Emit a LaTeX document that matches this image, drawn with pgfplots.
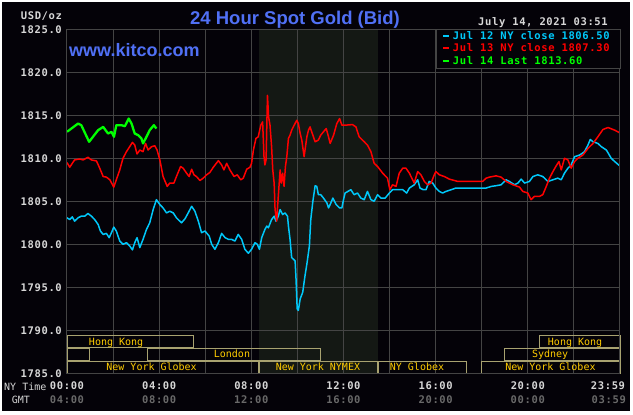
\documentclass[border=0pt]{standalone}
\usepackage{pgfplots}
\pgfplotsset{compat=1.18}
\usepackage{fontspec}
\setmainfont{Liberation Sans}
\newfontfamily\monof{DejaVu Sans Mono}[LetterSpace=6]
\newfontfamily\monor{DejaVu Sans Mono}
\newcommand\tickfont{\monof\bfseries\fontsize{10.5}{12}\selectfont}
\newcommand\mktfont{\monor\fontsize{10}{12}\selectfont}
\definecolor{bg}{RGB}{4,2,8}
\definecolor{shade}{RGB}{20,24,20}
\definecolor{gridc}{RGB}{68,68,68}
\definecolor{ticktxt}{RGB}{215,215,215}
\definecolor{gmttxt}{RGB}{105,105,105}
\definecolor{titleblue}{RGB}{80,112,245}
\definecolor{c12}{RGB}{0,200,250}
\definecolor{c13}{RGB}{255,0,0}
\definecolor{c14}{RGB}{0,255,0}
\definecolor{mktbox}{RGB}{168,162,112}
\definecolor{mkttxt}{RGB}{255,204,0}

\pgfplotstableread{
h p
0.00 1803.08
0.12 1802.88
0.23 1803.19
0.33 1802.69
0.48 1803.08
0.62 1803.27
0.77 1803.27
0.91 1803.58
1.06 1803.27
1.20 1802.88
1.35 1802.31
1.45 1801.54
1.57 1801.15
1.71 1801.27
1.83 1800.77
1.93 1801.35
2.03 1802.00
2.14 1801.54
2.29 1800.38
2.43 1800.00
2.58 1800.19
2.72 1799.81
2.84 1799.35
2.94 1800.19
3.04 1800.77
3.16 1799.62
3.30 1800.58
3.45 1801.73
3.59 1802.50
3.74 1804.04
3.88 1805.19
4.03 1804.62
4.17 1804.23
4.32 1803.65
4.46 1803.85
4.61 1803.65
4.75 1803.08
4.97 1802.50
5.12 1802.96
5.26 1803.65
5.41 1804.42
5.55 1803.85
5.70 1802.69
5.84 1801.35
5.99 1801.54
6.17 1800.96
6.28 1800.00
6.42 1799.42
6.57 1800.19
6.71 1801.27
6.86 1800.77
7.00 1800.58
7.14 1800.58
7.29 1800.38
7.43 1801.15
7.58 1800.58
7.72 1799.42
7.87 1798.96
8.01 1799.42
8.16 1800.19
8.26 1800.00
8.35 1799.42
8.45 1800.77
8.59 1801.73
8.67 1802.12
8.74 1801.92
8.88 1802.88
8.99 1803.27
9.07 1802.69
9.17 1803.27
9.25 1804.04
9.36 1803.46
9.46 1803.65
9.57 1803.27
9.61 1802.12
9.68 1800.58
9.75 1798.46
9.90 1798.08
9.94 1795.96
9.99 1792.50
10.04 1792.31
10.12 1793.65
10.23 1794.42
10.33 1796.35
10.41 1797.69
10.52 1799.81
10.58 1802.88
10.67 1805.00
10.77 1806.81
10.84 1806.73
10.91 1805.77
11.01 1805.77
11.13 1805.38
11.28 1804.81
11.35 1804.23
11.42 1804.62
11.54 1805.38
11.68 1804.62
11.83 1804.23
11.93 1804.23
12.00 1805.19
12.07 1805.96
12.32 1806.35
12.46 1805.77
12.61 1805.96
12.75 1805.38
12.90 1805.19
13.04 1806.15
13.19 1805.19
13.33 1805.00
13.48 1805.77
13.62 1805.38
13.81 1805.38
13.99 1805.96
14.13 1806.35
14.35 1806.35
14.57 1806.35
14.74 1805.96
14.86 1806.54
15.07 1806.92
15.22 1807.50
15.32 1806.54
15.46 1806.35
15.58 1806.35
15.72 1807.31
15.87 1807.12
16.01 1806.54
16.16 1806.15
16.30 1805.96
16.45 1806.15
16.67 1806.35
16.88 1806.54
18.04 1806.54
18.19 1806.54
18.41 1806.73
18.62 1806.81
18.84 1806.92
19.06 1807.50
19.20 1807.31
19.42 1806.92
19.57 1807.12
19.71 1807.58
19.86 1807.12
20.07 1807.31
20.22 1807.88
20.43 1808.08
20.65 1807.88
20.87 1807.31
21.09 1807.50
21.30 1807.69
21.45 1807.50
21.59 1808.27
21.74 1808.85
21.88 1809.23
22.03 1810.19
22.25 1810.38
22.46 1810.77
22.61 1811.54
22.71 1812.19
22.83 1811.92
23.04 1811.73
23.19 1811.35
23.41 1810.96
23.62 1810.00
23.77 1809.62
23.99 1809.12
}\jultwelve

\pgfplotstableread{
h p
0.00 1809.50
0.12 1808.96
0.23 1809.42
0.33 1809.81
0.55 1809.92
0.70 1809.81
0.91 1810.12
1.06 1809.81
1.28 1809.69
1.42 1808.85
1.57 1807.88
1.71 1807.81
1.86 1807.50
2.03 1806.65
2.14 1807.50
2.29 1808.65
2.43 1810.00
2.58 1810.77
2.72 1811.35
2.84 1811.85
2.94 1811.54
3.04 1810.50
3.16 1810.96
3.30 1810.77
3.41 1811.73
3.52 1810.96
3.67 1811.35
3.81 1811.46
3.91 1810.96
4.03 1809.81
4.17 1807.88
4.35 1806.73
4.46 1807.12
4.64 1807.12
4.75 1807.88
4.93 1809.04
5.04 1808.85
5.19 1808.27
5.30 1807.88
5.41 1808.73
5.51 1808.08
5.62 1807.88
5.77 1807.42
5.91 1807.69
6.06 1808.08
6.20 1808.35
6.35 1808.96
6.57 1809.73
6.71 1809.23
6.81 1808.65
6.93 1809.42
7.07 1808.65
7.25 1807.88
7.39 1808.08
7.54 1807.50
7.65 1807.69
7.80 1808.73
7.94 1808.96
8.01 1809.42
8.09 1810.96
8.20 1812.31
8.30 1812.50
8.41 1813.85
8.49 1814.23
8.55 1810.19
8.59 1809.23
8.64 1809.81
8.70 1817.31
8.75 1814.81
8.81 1813.85
8.88 1811.35
8.93 1808.65
8.99 1807.12
9.03 1804.04
9.10 1802.69
9.14 1804.42
9.19 1806.35
9.25 1808.65
9.30 1807.12
9.36 1808.27
9.42 1806.73
9.48 1809.04
9.54 1810.19
9.61 1812.31
9.68 1812.69
9.75 1813.27
9.86 1813.85
9.97 1814.42
10.04 1814.04
10.12 1812.88
10.19 1812.12
10.29 1810.19
10.41 1812.50
10.48 1813.27
10.55 1813.65
10.62 1813.08
10.77 1811.92
10.91 1812.12
11.01 1812.69
11.13 1813.08
11.25 1813.46
11.35 1812.50
11.42 1811.73
11.57 1812.69
11.71 1814.04
11.83 1814.62
11.93 1813.85
12.07 1813.85
12.39 1813.92
12.54 1813.65
12.68 1812.50
12.90 1811.92
13.04 1811.54
13.19 1810.77
13.33 1809.42
13.48 1809.04
13.70 1808.27
13.91 1807.69
14.01 1806.35
14.13 1806.92
14.28 1806.73
14.42 1808.27
14.57 1808.85
14.71 1808.85
14.86 1808.27
15.00 1807.50
15.07 1807.12
15.22 1808.46
15.36 1808.08
15.51 1807.31
15.65 1806.92
15.80 1807.12
15.94 1808.08
16.01 1808.46
16.16 1808.08
16.38 1807.88
16.59 1807.58
16.81 1807.42
16.96 1807.31
18.04 1807.31
18.19 1807.69
18.33 1807.81
18.62 1807.96
18.84 1807.81
19.06 1807.31
19.35 1806.92
19.64 1806.65
19.78 1806.15
20.00 1805.96
20.14 1805.19
20.29 1805.58
20.51 1805.58
20.65 1805.77
20.80 1806.73
20.94 1807.69
21.09 1808.46
21.23 1809.12
21.35 1809.62
21.45 1808.65
21.59 1810.00
21.74 1809.81
21.88 1808.85
22.03 1809.62
22.17 1810.00
22.39 1810.38
22.61 1811.15
22.83 1811.73
23.04 1812.50
23.26 1813.35
23.48 1813.58
23.77 1813.27
23.99 1812.96
}\julthirteen

\pgfplotstableread{
h p
0.00 1813.08
0.48 1814.04
0.62 1813.85
0.96 1811.92
1.35 1813.27
1.57 1813.65
1.78 1812.88
1.93 1813.08
2.04 1812.50
2.14 1813.85
2.36 1813.85
2.51 1813.73
2.68 1814.62
2.80 1814.04
2.94 1812.88
3.09 1812.69
3.23 1812.31
3.30 1811.73
3.45 1812.50
3.59 1813.27
3.77 1813.85
3.88 1813.46
}\julfourteen

\begin{document}
\begin{tikzpicture}[x=1pt,y=1pt]
\fill[white] (0,0) rectangle (633,415);
\useasboundingbox (0,0) rectangle (633,415);
\fill[bg] (2,4) rectangle (630,413);
\begin{axis}[
  at={(67pt,41.7pt)}, anchor=south west,
  scale only axis, width=553pt, height=344pt,
  xmin=0, xmax=24, ymin=1785, ymax=1825,
  axis line style={draw=gridc, line width=1pt},
  major tick length=0pt, tick style={draw=none},
  xtick={0,2,...,22},
  xticklabels={00:00,,04:00,,08:00,,12:00,,16:00,,20:00,},
  ytick={1785,1790,...,1825},
  yticklabels={1785.0,1790.0,1795.0,1800.0,1805.0,1810.0,1815.0,1820.0,1825.0},
  xticklabel style={font=\tickfont, text=ticktxt, inner sep=0pt, anchor=center, yshift=-12pt},
  yticklabel style={font=\tickfont, text=ticktxt, inner sep=0pt, anchor=east, xshift=-5pt},
  clip mode=individual,
]
% NYMEX session shade
\addplot[fill=shade, draw=none, forget plot] coordinates {(8.33,1785) (8.33,1825) (13.5,1825) (13.5,1785)} -- cycle;
% grid
\pgfplotsinvokeforeach{2,4,...,22}{\draw[gridc, line width=0.9pt] (axis cs:#1,1785) -- (axis cs:#1,1825);}
\pgfplotsinvokeforeach{1790,1795,...,1820}{\draw[gridc, line width=0.9pt] (axis cs:0,#1) -- (axis cs:24,#1);}
% market sessions
\draw[mktbox, line width=1.2pt] (axis cs:0,1788.00) rectangle (axis cs:5.5,1789.40);
\draw[mktbox, line width=1.2pt] (axis cs:20.5,1788.00) rectangle (axis cs:24,1789.40);
\draw[mktbox, line width=1.2pt] (axis cs:0,1786.51) rectangle (axis cs:0.97,1787.91);
\draw[mktbox, line width=1.2pt] (axis cs:3.5,1786.51) rectangle (axis cs:11,1787.91);
\draw[mktbox, line width=1.2pt] (axis cs:19,1786.51) rectangle (axis cs:24,1787.91);
\draw[mktbox, line width=1.2pt] (axis cs:0,1785) rectangle (axis cs:8.33,1786.37);
\draw[mktbox, line width=1.2pt] (axis cs:8.33,1785) rectangle (axis cs:13.5,1786.37);
\draw[mktbox, line width=2.2pt] (axis cs:8.33,1785) -- (axis cs:8.33,1786.37);
\draw[mktbox, line width=2.2pt] (axis cs:13.5,1785) -- (axis cs:13.5,1786.37);
\draw[mktbox, line width=1.2pt] (axis cs:13.5,1785) rectangle (axis cs:17.33,1786.37);
\draw[mktbox, line width=1.2pt] (axis cs:18,1785) rectangle (axis cs:24,1786.37);
\node[font=\mktfont, text=mkttxt, inner sep=0pt, anchor=base] at (axis cs:2.13,1788.29) {Hong Kong};
\node[font=\mktfont, text=mkttxt, inner sep=0pt, anchor=base] at (axis cs:22.05,1788.29) {Hong Kong};
\node[font=\mktfont, text=mkttxt, inner sep=0pt, anchor=base] at (axis cs:7.16,1786.81) {London};
\node[font=\mktfont, text=mkttxt, inner sep=0pt, anchor=base] at (axis cs:20.97,1786.81) {Sydney};
\node[font=\mktfont, text=mkttxt, inner sep=0pt, anchor=base] at (axis cs:3.67,1785.30) {New York Globex};
\node[font=\mktfont, text=mkttxt, inner sep=0pt, anchor=base] at (axis cs:10.89,1785.30) {New York NYMEX};
\node[font=\mktfont, text=mkttxt, inner sep=0pt, anchor=base] at (axis cs:15.19,1785.30) {NY Globex};
\node[font=\mktfont, text=mkttxt, inner sep=0pt, anchor=base] at (axis cs:20.98,1785.30) {New York Globex};
% data
\addplot[c12, line width=1.5pt, line join=round] table[x=h, y=p] {\jultwelve};
\addplot[c13, line width=1.5pt, line join=round] table[x=h, y=p] {\julthirteen};
\addplot[c14, line width=2.3pt, line join=round] table[x=h, y=p] {\julfourteen};
\draw[gridc, line width=1pt] (axis cs:0,1785) rectangle (axis cs:24,1825);
\end{axis}
% legend box
\fill[bg] (436,346.7) rectangle (620,385.7);
\draw[gridc, line width=1pt] (436,346.7) rectangle (620,385.7);
\draw[c12, line width=2pt] (443,379.2) -- (449,379.2);
\draw[c13, line width=2pt] (443,367.2) -- (449,367.2);
\draw[c14, line width=2pt] (443,354.2) -- (449,354.2);
\node[font=\tickfont, text=c12, inner sep=0pt, anchor=west] at (452.7,379.2) {Jul 12 NY close 1806.50};
\node[font=\tickfont, text=c13, inner sep=0pt, anchor=west] at (452.7,367.2) {Jul 13 NY close 1807.30};
\node[font=\tickfont, text=c14, inner sep=0pt, anchor=west] at (452.7,354.2) {Jul 14 Last 1813.60};
% titles and texts
\node[font=\bfseries\fontsize{18.5}{20}\selectfont, text=titleblue, inner sep=0pt, anchor=base] at (295,390.3) {24 Hour Spot Gold (Bid)};
\node[font=\bfseries\fontsize{18}{20}\selectfont, text=titleblue, inner sep=0pt, anchor=base west] at (69,358) {www.kitco.com};
\node[font=\tickfont, text=ticktxt, inner sep=0pt, anchor=base] at (543,389) {July 14, 2021 03:51};
\node[font=\tickfont, text=ticktxt, inner sep=0pt, anchor=base west] at (20.7,395.7) {USD/oz};
\node[font=\mktfont, text=ticktxt, inner sep=0pt, anchor=base west] at (4,24.3) {NY Time};
\node[font=\mktfont, text=ticktxt, inner sep=0pt, anchor=base west] at (11.7,11.7) {GMT};
\node[font=\tickfont, text=ticktxt, inner sep=0pt] at (608,29.7) {23:59};
\node[font=\tickfont, text=gmttxt, inner sep=0pt] at (67,15.7) {04:00};
\node[font=\tickfont, text=gmttxt, inner sep=0pt] at (159.2,15.7) {08:00};
\node[font=\tickfont, text=gmttxt, inner sep=0pt] at (251.3,15.7) {12:00};
\node[font=\tickfont, text=gmttxt, inner sep=0pt] at (343.5,15.7) {16:00};
\node[font=\tickfont, text=gmttxt, inner sep=0pt] at (435.7,15.7) {20:00};
\node[font=\tickfont, text=gmttxt, inner sep=0pt] at (527.8,15.7) {00:00};
\node[font=\tickfont, text=gmttxt, inner sep=0pt] at (608.8,15.7) {03:59};
\end{tikzpicture}
\end{document}
